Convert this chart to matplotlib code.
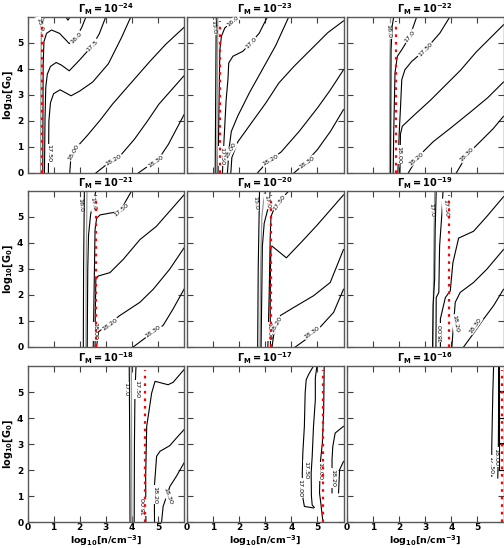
import matplotlib
matplotlib.use("Agg")
import matplotlib.pyplot as plt

# ---------------- data ----------------
panel_exponents = [-24, -23, -22, -21, -20, -19, -18, -17, -16]
x_ticks = [0, 1, 2, 3, 4, 5]
y_ticks = [0, 1, 2, 3, 4, 5]

# red dashed critical-density line, per panel (x position)
red_x = [0.57, 1.28, 1.88, 2.61, 3.22, 3.90, 4.50, 5.21, 5.95]

# ---- panel 1: Gamma = 1e-24 ----
g24_gray = [(0.50, 0.0), (0.51, 3.0), (0.53, 5.4), (0.58, 5.8), (0.66, 6.0)]
g24_v = [(1.47, 6.0), (1.55, 5.88), (1.63, 6.0)]
g24_16 = [(2.24, 6.0), (2.08, 5.6), (1.86, 5.2), (1.6, 4.98), (1.23, 5.37), (0.92, 5.5),
          (0.73, 5.37), (0.63, 5.05), (0.60, 4.15), (0.585, 0.0)]
g24_17 = [(3.0, 6.0), (2.75, 5.35), (2.49, 4.9), (2.0, 4.35), (1.6, 3.93), (1.3, 4.15),
          (1.1, 4.25), (0.88, 4.1), (0.76, 3.8), (0.70, 3.3), (0.67, 2.0), (0.65, 0.0)]
g24_175 = [(3.96, 6.0), (3.6, 5.2), (3.1, 4.2), (2.5, 3.5), (2.0, 3.15), (1.67, 2.97),
           (1.25, 3.2), (1.0, 3.05), (0.88, 2.7), (0.82, 2.0), (0.80, 0.0)]
g24_180 = [(1.62, 0.0), (1.66, 0.55), (1.85, 0.95), (2.3, 1.45), (2.8, 2.05), (3.26, 2.65),
           (4.0, 3.5), (4.7, 4.3), (5.3, 4.95), (6.0, 5.6)]
g24_182 = [(2.62, 0.0), (3.0, 0.3), (3.5, 0.6), (4.1, 1.3), (4.6, 2.0), (5.04, 2.65), (6.0, 3.74)]
g24_183 = [(4.25, 0.0), (4.6, 0.25), (5.0, 0.5), (5.4, 1.1), (6.0, 2.24)]
g24_labels = [("15.0", 0.46, 5.72, -75), ("16.0", 1.86, 5.2, 45), ("17.5", 2.49, 4.9, 45),
              ("17.50", 0.82, 0.75, -90), ("18.00", 1.78, 0.8, 60), ("18.20", 3.3, 0.5, 30),
              ("18.30", 4.9, 0.42, 35)]

# ---- panel 2: Gamma = 1e-23 ----
g23_15 = [(1.08, 0.0), (1.10, 3.0), (1.12, 6.0)]
g23_gray = [(1.14, 0.0), (1.16, 3.0), (1.18, 6.0)]
g23_16 = [(2.07, 6.0), (1.76, 5.83), (1.45, 5.58), (1.32, 5.26), (1.26, 4.74), (1.23, 2.82),
          (1.19, 0.0)]
g23_17 = [(3.08, 6.0), (2.77, 5.38), (2.45, 5.0), (2.14, 4.68), (1.76, 4.49), (1.6, 4.23),
          (1.57, 3.6), (1.5, 2.8), (1.42, 1.28), (1.38, 0.5), (1.36, 0.0)]
g23_175 = [(3.9, 6.0), (3.4, 4.9), (2.9, 4.0), (2.4, 3.1), (1.95, 2.2), (1.7, 1.6),
           (1.62, 1.0), (1.55, 0.0)]
g23_180 = [(1.68, 0.0), (1.72, 0.6), (1.95, 1.2), (2.45, 1.9), (3.02, 2.69), (3.52, 3.46),
           (4.1, 4.1), (4.8, 4.8), (5.4, 5.4), (6.0, 5.85)]
g23_182 = [(2.7, 0.0), (3.1, 0.45), (3.6, 0.8), (4.3, 1.6), (5.0, 2.5), (5.5, 3.2), (6.0, 3.97)]
g23_183 = [(4.1, 0.0), (4.5, 0.35), (5.0, 0.9), (5.5, 1.6), (6.0, 2.44)]
g23_labels = [("15.0", 1.0, 5.6, -85), ("16.0", 1.76, 5.83, 40), ("17.0", 2.45, 5.0, 45),
              ("17.50", 1.32, 0.65, -90), ("18.00", 1.68, 0.85, 60), ("18.20", 3.2, 0.5, 30),
              ("18.30", 4.6, 0.4, 35)]

# ---- panel 3: Gamma = 1e-22 ----
g22_gray = [(1.63, 0.0), (1.64, 4.0), (1.67, 6.0)]
g22_16 = [(1.67, 0.0), (1.69, 4.74), (1.73, 5.64), (1.79, 6.0)]
g22_17 = [(2.67, 6.0), (2.41, 5.25), (2.1, 4.74), (1.93, 4.49), (1.84, 3.85), (1.79, 1.5),
          (1.77, 0.0)]
g22_175 = [(3.94, 6.0), (3.56, 5.38), (3.0, 4.74), (2.48, 4.29), (2.22, 3.97), (2.1, 3.59),
           (2.05, 2.5), (2.0, 1.5), (1.95, 0.0)]
g22_180 = [(2.03, 0.0), (2.05, 1.5), (2.12, 1.8), (2.6, 2.25), (3.2, 2.8), (3.75, 3.35),
           (4.35, 3.95), (4.95, 4.65), (5.5, 5.2), (6.0, 5.7)]
g22_182 = [(2.35, 0.0), (2.7, 0.6), (3.3, 1.2), (4.0, 1.75), (4.8, 2.4), (5.4, 2.9), (6.0, 3.5)]
g22_183 = [(4.19, 0.0), (4.6, 0.7), (5.1, 1.2), (5.6, 1.7), (6.0, 2.18)]
g22_labels = [("16.0", 1.6, 5.45, -85), ("17.0", 2.42, 5.25, 50), ("17.50", 3.0, 4.74, 45),
              ("18.00", 2.0, 0.7, -90), ("18.20", 2.65, 0.55, 40), ("18.30", 4.6, 0.72, 45)]

# ---- panel 4: Gamma = 1e-21 ----
g21_16 = [(2.14, 0.0), (2.15, 3.0), (2.18, 6.0)]
g21_gray = [(2.24, 0.0), (2.25, 3.0), (2.28, 6.0)]
g21_17 = [(2.29, 0.0), (2.31, 3.0), (2.34, 4.3), (2.42, 5.1), (2.56, 5.7), (2.62, 6.0)]
g21_175 = [(3.99, 6.0), (3.54, 5.21), (3.16, 5.15), (2.78, 5.08), (2.65, 4.95), (2.59, 4.51),
           (2.54, 1.33), (2.52, 0.0)]
g21_180 = [(2.59, 0.0), (2.6, 1.3), (2.62, 2.6), (2.71, 2.73), (3.16, 2.86), (3.67, 3.37),
           (4.31, 4.13), (4.94, 4.64), (6.0, 5.85)]
g21_182 = [(2.65, 0.0), (2.71, 0.57), (3.03, 0.83), (3.54, 1.21), (4.31, 1.72), (4.82, 2.22),
           (5.45, 2.99), (6.0, 3.81)]
g21_183 = [(4.05, 0.0), (4.56, 0.38), (5.2, 0.83), (5.58, 1.46), (6.0, 2.22)]
g21_labels = [("16.0", 2.01, 5.46, -85), ("17.0", 2.52, 5.5, -80), ("17.50", 3.6, 5.25, 40),
              ("18.00", 2.59, 0.6, -90), ("18.20", 3.16, 0.85, 35), ("18.30", 4.82, 0.6, 35)]

# ---- panel 5: Gamma = 1e-20 ----
g20_15 = [(2.71, 0.0), (2.73, 3.0), (2.78, 6.0)]
g20_gray = [(2.80, 0.0), (2.82, 3.0), (2.87, 5.02), (2.98, 6.0)]
g20_17 = [(2.84, 0.0), (2.89, 3.88), (2.96, 4.76), (3.09, 5.27), (3.19, 6.0)]
g20_175 = [(3.9, 6.0), (3.58, 5.65), (3.32, 5.27), (3.22, 5.02), (3.19, 4.2), (3.15, 2.0),
           (3.1, 0.0)]
g20_180 = [(3.2, 0.0), (3.19, 1.5), (3.2, 3.0), (3.22, 3.88), (3.26, 3.88), (3.81, 3.43),
           (4.4, 4.05), (5.0, 4.7), (6.0, 5.85)]
g20_182 = [(3.26, 0.0), (3.32, 0.44), (3.58, 1.21), (4.09, 1.52), (4.85, 1.97), (5.49, 2.48),
           (6.0, 3.75)]
g20_183 = [(4.15, 0.0), (4.6, 0.32), (5.1, 0.76), (5.62, 1.33), (6.0, 2.22)]
g20_labels = [("15.0", 2.62, 5.53, -85), ("17.0", 3.08, 5.6, -80), ("17.50", 3.55, 5.55, 55),
              ("18.00", 3.13, 0.6, -90), ("18.20", 3.42, 0.85, 60), ("18.30", 4.79, 0.57, 35)]

# ---- panel 6: Gamma = 1e-19 ----
g19_gray = [(3.30, 0.0), (3.32, 3.0), (3.36, 6.0)]
g19_17 = [(3.28, 0.0), (3.3, 1.59), (3.36, 2.6), (3.38, 4.51), (3.42, 6.0)]
g19_175 = [(3.68, 6.0), (3.64, 5.15), (3.55, 3.88), (3.52, 2.1), (3.42, 1.9), (3.41, 0.0)]
g19_180 = [(3.58, 0.0), (3.58, 1.08), (3.77, 1.9), (3.96, 2.16), (4.06, 3.24), (4.28, 4.19),
           (4.85, 4.45), (5.36, 5.02), (6.0, 5.78)]
g19_182 = [(4.02, 0.0), (4.09, 0.95), (4.15, 1.72), (4.34, 2.1), (4.85, 2.48), (5.36, 2.99),
           (6.0, 3.75)]
g19_183 = [(4.47, 0.0), (4.79, 0.44), (5.24, 1.08), (5.62, 1.59), (6.0, 2.22)]
g19_labels = [("17.0", 3.22, 5.27, -85), ("17.50", 3.77, 5.34, -85), ("18.00", 3.58, 0.55, 90),
              ("18.20", 4.15, 0.89, -80), ("18.30", 4.92, 0.83, 55)]

# ---- panel 7: Gamma = 1e-18 ----
g18_17 = [(3.93, 0.0), (3.92, 3.0), (3.90, 6.0)]
g18_gray = [(4.0, 0.0), (3.99, 3.0), (3.98, 6.0)]
g18_175 = [(4.09, 0.0), (4.1, 3.0), (4.12, 5.0), (4.16, 6.0)]
g18_180 = [(4.54, 0.0), (4.53, 1.76), (4.57, 3.68), (4.76, 4.96), (4.89, 5.41), (5.39, 5.28),
           (5.58, 5.37), (6.0, 5.86)]
g18_182 = [(4.87, 0.0), (4.86, 1.31), (4.95, 2.53), (5.08, 2.72), (5.46, 2.94), (5.71, 3.23),
           (6.0, 3.55)]
g18_183 = [(5.14, 0.0), (5.2, 0.6), (5.46, 1.37), (5.71, 1.76), (6.0, 2.27)]
g18_labels = [("17.0", 3.78, 5.1, -90), ("17.50", 4.2, 5.1, -90), ("18.00", 4.47, 0.6, 90),
              ("18.20", 4.89, 1.05, -90), ("18.30", 5.39, 0.99, -70)]

# ---- panel 8: Gamma = 1e-17 ----
g17_170 = [(4.85, 6.0), (4.66, 5.67), (4.57, 5.47), (4.53, 4.96), (4.5, 3.68), (4.44, 2.65),
           (4.42, 1.88), (4.43, 1.0), (4.5, 0.6), (4.85, 0.54)]
g17_175 = [(4.98, 6.0), (4.92, 5.54), (4.92, 4.7), (4.85, 3.68), (4.8, 2.53), (4.76, 1.88),
           (4.77, 1.0), (4.8, 0.65), (4.88, 0.56)]
g17_180 = [(5.26, 6.0), (5.24, 4.32), (5.19, 3.04), (5.11, 2.27), (5.08, 1.12), (5.13, 0.73),
           (5.21, 0.0)]
g17_182 = [(6.0, 3.68), (5.68, 3.42), (5.59, 2.91), (5.56, 2.4), (5.56, 1.12)]
g17_183 = [(6.0, 2.33), (5.85, 2.01), (5.81, 1.12)]
g17_labels = [("17.00", 4.34, 1.3, -90), ("17.50", 4.57, 2.0, -90), ("18.00", 5.08, 1.95, -90),
              ("18.20", 5.59, 1.69, -90)]

# ---- panel 9: Gamma = 1e-16 ----
g16_175 = [(5.62, 6.0), (5.59, 4.96), (5.55, 2.91), (5.55, 1.76)]
g16_180 = [(5.81, 6.0), (5.81, 4.0), (5.80, 2.6), (5.78, 1.69)]
g16_cells_y = [5.03, 4.0, 3.04, 2.01]
g16_labels = [("17.50", 5.5, 2.2, -90), ("18.00", 5.70, 2.5, -90)]

panel_black = [
    [g24_v, g24_16, g24_17, g24_175, g24_180, g24_182, g24_183],
    [g23_15, g23_16, g23_17, g23_175, g23_180, g23_182, g23_183],
    [g22_16, g22_17, g22_175, g22_180, g22_182, g22_183],
    [g21_16, g21_17, g21_175, g21_180, g21_182, g21_183],
    [g20_15, g20_17, g20_175, g20_180, g20_182, g20_183],
    [g19_17, g19_175, g19_180, g19_182, g19_183],
    [g18_17, g18_175, g18_180, g18_182, g18_183],
    [g17_170, g17_175, g17_180, g17_182, g17_183],
    [g16_175, g16_180],
]
panel_gray = [[g24_gray], [g23_gray], [g22_gray], [g21_gray], [g20_gray], [g19_gray],
              [g18_gray], [], []]
panel_labels = [g24_labels, g23_labels, g22_labels, g21_labels, g20_labels, g19_labels,
                g18_labels, g17_labels, g16_labels]

# ---------------- figure ----------------
W, H = 504, 548
fig = plt.figure(figsize=(W / 100, H / 100), dpi=100)
col_left = [27.5, 187.0, 347.0]
row_top = [17.0, 191.0, 366.0]
aw, ah = 156.5, 156.0

for i, ex in enumerate(panel_exponents):
    r, c = divmod(i, 3)
    ax = fig.add_axes([col_left[c] / W, (H - row_top[r] - ah) / H, aw / W, ah / H])
    ax.set_xlim(0, 6)
    ax.set_ylim(0, 6)
    for ln in panel_gray[i]:
        ax.plot([p[0] for p in ln], [p[1] for p in ln], color="0.6", lw=0.9, zorder=2)
    for ln in panel_black[i]:
        ax.plot([p[0] for p in ln], [p[1] for p in ln], color="black", lw=0.8, zorder=2)
    if i == 8:
        ax.plot([5.82, 5.82], [2.0, 6.0], color="black", lw=0.8, zorder=2)
        for yy in g16_cells_y:
            ax.plot([5.82, 6.0], [yy, yy], color="black", lw=0.8, zorder=2)
    ax.plot([red_x[i], red_x[i]], [0, 5.85], color="red", lw=1.6,
            ls=(0, (1.2, 2.2)), zorder=4)
    for (t, lx, ly, rot) in panel_labels[i]:
        ax.text(lx, ly, t, fontsize=4.6, rotation=rot, ha="center", va="center",
                rotation_mode="anchor", zorder=3,
                bbox=dict(boxstyle="square,pad=0.1", fc="white", ec="none"))
    ax.set_title(r"$\mathbf{\Gamma_M}$" + r"$\mathbf{=10^{%d}}$" % ex,
                 fontsize=7, pad=3)
    ax.set_xticks(x_ticks)
    ax.set_yticks(y_ticks)
    ax.tick_params(direction="in", length=4, width=0.8, top=True, right=True,
                   labelsize=6.5, color="0.25")
    ax.tick_params(axis="x", pad=1)
    ax.tick_params(axis="y", pad=3)
    for sp in ax.spines.values():
        sp.set_linewidth(1.0)
        sp.set_color("0.35")
    for lab in ax.get_xticklabels() + ax.get_yticklabels():
        lab.set_fontweight("bold")
    if c != 0:
        ax.set_yticklabels([])
    else:
        ax.set_ylabel(r"$\mathbf{log_{10}[G_0]}$", fontsize=7, labelpad=1.5)
    if r != 2:
        ax.set_xticklabels([])
    else:
        ax.set_xlabel(r"$\mathbf{log_{10}[n/cm^{-3}]}$", fontsize=6.8, labelpad=0.5)

fig.savefig("out.png", dpi=100)
